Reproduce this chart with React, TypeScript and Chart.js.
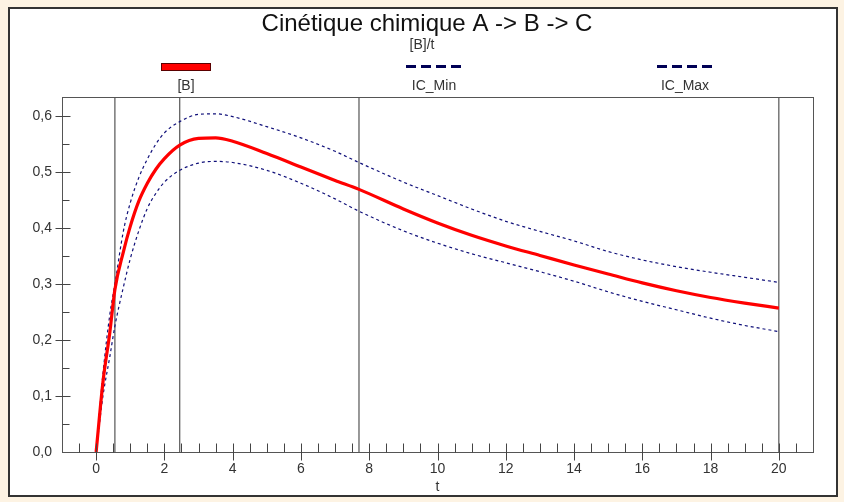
import React, { useEffect, useRef } from "react";
import { Chart, registerables } from "chart.js";
Chart.register(...registerables);

const times = [0, 0.2, 0.4, 0.55, 0.8, 1.0, 1.25, 1.5, 1.75, 2.0, 2.45, 3.0, 3.5, 4, 5, 6, 7, 7.7, 9, 10, 11, 12, 13, 14, 15, 16, 17, 18, 19, 20];
const concB = [0, 0.125, 0.213, 0.29, 0.358, 0.403, 0.448, 0.48, 0.505, 0.524, 0.548, 0.56, 0.561, 0.555, 0.533, 0.509, 0.485, 0.469, 0.434, 0.409, 0.387, 0.368, 0.351, 0.334, 0.318, 0.302, 0.288, 0.276, 0.266, 0.257];
const icMax = [0, 0.14, 0.245, 0.3, 0.395, 0.445, 0.49, 0.523, 0.55, 0.57, 0.59, 0.603, 0.604, 0.599, 0.581, 0.561, 0.537, 0.517, 0.482, 0.458, 0.434, 0.412, 0.394, 0.377, 0.358, 0.343, 0.331, 0.321, 0.312, 0.303];
const icMin = [0, 0.1, 0.17, 0.225, 0.295, 0.345, 0.395, 0.435, 0.462, 0.482, 0.503, 0.516, 0.519, 0.517, 0.503, 0.48, 0.452, 0.43, 0.395, 0.373, 0.354, 0.338, 0.322, 0.305, 0.286, 0.269, 0.254, 0.239, 0.226, 0.215];
const markerTimes = [0.55, 2.45, 7.7, 20];
const xTicks = [0, 2, 4, 6, 8, 10, 12, 14, 16, 18, 20];
const yTicks = [0, 0.1, 0.2, 0.3, 0.4, 0.5, 0.6];
const legendLabels = ["[B]", "IC_Min", "IC_Max"];
const titleText = "Cinétique chimique A -> B -> C";
const subtitleText = "[B]/t";
const xAxisTitle = "t";

const X_MIN = -1;
const X_MAX = 21;
const Y_MIN = 0;
const Y_MAX = 0.634;

const FONT = "'Liberation Sans', Arial, sans-serif";
const RED = "#ff0000";
const NAVY = "#10107a";
const TEXT = "#333333";

const decorPlugin = {
  id: "decor",
  beforeDraw(chart: any) {
    const ctx = chart.ctx;
    ctx.save();
    ctx.fillStyle = "#fdf3e3";
    ctx.fillRect(0, 0, chart.width, chart.height);
    ctx.fillStyle = "#ffffff";
    ctx.fillRect(9, 8, 828, 488);
    ctx.strokeStyle = "#333333";
    ctx.lineWidth = 2;
    ctx.strokeRect(9, 8, 828, 488);
    ctx.restore();
  },
  afterDraw(chart: any) {
    const ctx = chart.ctx;
    const a = chart.chartArea;
    const xs = chart.scales.x;
    const ys = chart.scales.y;
    ctx.save();
    // plot frame
    ctx.strokeStyle = "#555555";
    ctx.lineWidth = 1;
    ctx.strokeRect(Math.round(a.left) + 0.5, Math.round(a.top) + 0.5, Math.round(a.right - a.left), Math.round(a.bottom - a.top));
    // ticks
    ctx.strokeStyle = "#444444";
    ctx.beginPath();
    const bottom = Math.round(a.bottom) + 0.5;
    for (let v = X_MIN + 0.5; v < X_MAX; v += 0.5) {
      const px = Math.round(xs.getPixelForValue(v)) + 0.5;
      const major = xTicks.includes(v);
      ctx.moveTo(px, bottom - 9);
      ctx.lineTo(px, major ? bottom + 8 : bottom);
    }
    const left = Math.round(a.left) + 0.5;
    for (let i = 1; i < 13; i++) {
      const v = i * 0.05;
      if (v > Y_MAX) break;
      const py = Math.round(ys.getPixelForValue(v)) + 0.5;
      const major = i % 2 === 0;
      ctx.moveTo(major ? left - 7 : left, py);
      ctx.lineTo(left + (major ? 8 : 7), py);
    }
    ctx.stroke();

    // title
    ctx.fillStyle = "#111111";
    ctx.textAlign = "center";
    ctx.textBaseline = "alphabetic";
    ctx.font = `24px ${FONT}`;
    ctx.fillText(titleText, 427, 31);
    ctx.fillStyle = TEXT;
    ctx.font = `14px ${FONT}`;
    ctx.fillText(subtitleText, 422, 49);

    // legend
    const centers = [186, 434, 685];
    ctx.fillStyle = RED;
    ctx.fillRect(162, 64, 48, 6);
    ctx.strokeStyle = "#5a0000";
    ctx.lineWidth = 1;
    ctx.strokeRect(161.5, 63.5, 49, 7);
    for (const c of [centers[1], centers[2]]) {
      ctx.fillStyle = "#000055";
      const start = c - 28;
      for (let k = 0; k < 4; k++) {
        ctx.fillRect(start + k * 15, 65, 10, 3);
      }
    }
    ctx.fillStyle = TEXT;
    ctx.font = `14px ${FONT}`;
    ctx.textBaseline = "middle";
    legendLabels.forEach((l, i) => ctx.fillText(l, centers[i], 86));
    ctx.restore();
  },
};

export default function App() {
  const ref = useRef<HTMLCanvasElement | null>(null);
  useEffect(() => {
    if (!ref.current) return;
    const mk = (arr: number[]) => times.map((t, i) => ({ x: t, y: arr[i] }));
    const markerSets = markerTimes.map((t) => ({
      label: "marker",
      data: [{ x: t, y: Y_MIN }, { x: t, y: Y_MAX }],
      borderColor: "#333333",
      borderWidth: 1,
      pointRadius: 0,
      fill: false,
      order: 5,
    }));
    const chart = new Chart(ref.current, {
      type: "line",
      data: {
        datasets: [
          ...markerSets,
          {
            label: "IC_Min",
            data: mk(icMin),
            borderColor: NAVY,
            borderWidth: 1.2,
            borderDash: [3, 3],
            pointRadius: 0,
            cubicInterpolationMode: "monotone",
            fill: false,
            order: 2,
          },
          {
            label: "IC_Max",
            data: mk(icMax),
            borderColor: NAVY,
            borderWidth: 1.2,
            borderDash: [3, 3],
            pointRadius: 0,
            cubicInterpolationMode: "monotone",
            fill: false,
            order: 2,
          },
          {
            label: "[B]",
            data: mk(concB),
            borderColor: RED,
            borderWidth: 3.2,
            pointRadius: 0,
            cubicInterpolationMode: "monotone",
            fill: false,
            clip: false,
            order: 1,
          },
        ] as any,
      },
      options: {
        animation: false,
        responsive: false,
        events: [],
        layout: { padding: { left: 12, right: 31, top: 97, bottom: 5 } },
        plugins: { legend: { display: false }, title: { display: false }, tooltip: { enabled: false } },
        scales: {
          x: {
            type: "linear",
            min: X_MIN,
            max: X_MAX,
            grid: { display: false, drawTicks: false },
            border: { display: false },
            afterBuildTicks: (s: any) => {
              s.ticks = xTicks.map((v) => ({ value: v }));
            },
            afterFit: (s: any) => {
              s.height = 45;
            },
            ticks: {
              color: TEXT,
              font: { family: FONT, size: 14 },
              padding: 9,
              maxRotation: 0,
              autoSkip: false,
              callback: (v: any) => String(v),
            },
            title: {
              display: true,
              text: xAxisTitle,
              color: TEXT,
              font: { family: FONT, size: 14 },
              padding: { top: 0, bottom: 1 },
            },
          },
          y: {
            type: "linear",
            min: Y_MIN,
            max: Y_MAX,
            grid: { display: false, drawTicks: false },
            border: { display: false },
            afterBuildTicks: (s: any) => {
              s.ticks = yTicks.map((v) => ({ value: v }));
            },
            afterFit: (s: any) => {
              s.width = 50;
            },
            ticks: {
              color: TEXT,
              font: { family: FONT, size: 14 },
              padding: 10,
              autoSkip: false,
              callback: (v: any) => Number(v).toFixed(1).replace(".", ","),
            },
          },
        },
      },
      plugins: [decorPlugin],
    } as any);
    return () => chart.destroy();
  }, []);
  return (
    <div style={{ position: "fixed", left: 0, top: 0, width: 844, height: 502, background: "#fdf3e3" }}>
      <canvas ref={ref} width={844} height={502} style={{ display: "block", width: 844, height: 502 }} />
    </div>
  );
}
